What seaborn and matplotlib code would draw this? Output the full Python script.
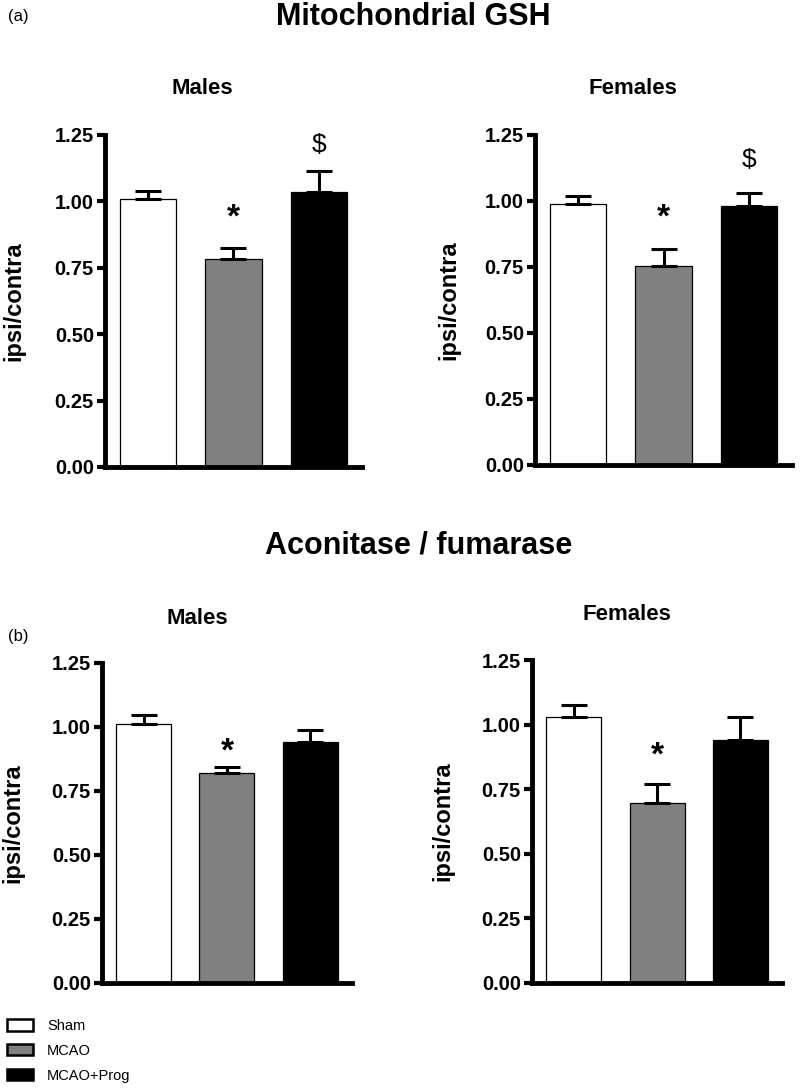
import numpy as np
import pandas as pd
import seaborn as sns
import matplotlib.pyplot as plt
from matplotlib.patches import Patch

sns.set_style('ticks')
plt.rcParams['font.family'] = ['Liberation Sans', 'DejaVu Sans']
plt.rcParams['text.color'] = 'black'
plt.rcParams['axes.edgecolor'] = 'black'
plt.rcParams['axes.labelcolor'] = 'black'
plt.rcParams['ytick.color'] = 'black'
plt.rcParams['xtick.color'] = 'black'

# data (mean and SEM, ipsi/contra ratio)
groups = ['Sham', 'MCAO', 'MCAO+Prog']
colors = ['#ffffff', '#808080', '#000000']

gsh_males_mean = [1.01, 0.785, 1.035]
gsh_males_sem = [0.03, 0.04, 0.08]
gsh_females_mean = [0.99, 0.755, 0.98]
gsh_females_sem = [0.03, 0.065, 0.05]

aco_males_mean = [1.01, 0.82, 0.94]
aco_males_sem = [0.035, 0.025, 0.05]
aco_females_mean = [1.03, 0.695, 0.94]
aco_females_sem = [0.045, 0.075, 0.09]

# significance marks: (group, symbol, height of mark centre)
gsh_males_marks = [('MCAO', '*', 0.979), ('MCAO+Prog', '$', 1.222)]
gsh_females_marks = [('MCAO', '*', 0.978), ('MCAO+Prog', '$', 1.165)]
aco_males_marks = [('MCAO', '*', 0.944)]
aco_females_marks = [('MCAO', '*', 0.922)]

yticks = [0.00, 0.25, 0.50, 0.75, 1.00, 1.25]

W, H = 800, 1091
fig = plt.figure(figsize=(W / 100, H / 100), dpi=100)


def px_axes(left, right, top, bottom):
    return fig.add_axes([left / W, 1 - bottom / H, (right - left) / W, (bottom - top) / H])


def panel(ax, title, means, sems, marks, label_x):
    df = pd.DataFrame({'group': groups, 'value': means, 'sem': sems})
    sns.barplot(data=df, x='group', y='value', hue='group', order=groups,
                hue_order=groups, palette=colors, width=0.66, edgecolor='black',
                linewidth=0.9, legend=False, ax=ax)
    ax.errorbar(np.arange(len(groups)), df['value'],
                yerr=[np.zeros(len(groups)), df['sem']], fmt='none',
                ecolor='black', elinewidth=2.2, capsize=9.5, capthick=2.2, zorder=1)
    for g, sym, y in marks:
        fs = 24 if sym == '*' else 19
        frac = 0.58 if sym == '*' else 0.36
        ax.annotate(sym, xy=(groups.index(g), y), xytext=(0, -frac * fs),
                    textcoords='offset points', ha='center', va='baseline',
                    fontsize=fs, fontweight='bold' if sym == '*' else 'normal')
    ax.set_xlim(-0.5, 2.5)
    ax.set_ylim(0, 1.25)
    ax.set_yticks(yticks)
    ax.set_yticklabels([f'{t:.2f}' for t in yticks], fontsize=14.5, fontweight='bold')
    ax.set_xticks([])
    ax.set_xlabel('')
    ax.set_ylabel('ipsi/contra', fontsize=17, fontweight='bold')
    ax.yaxis.set_label_coords(label_x, 0.5)
    ax.tick_params(axis='y', width=3, length=6, pad=2)
    sns.despine(ax=ax)
    for s in ['left', 'bottom']:
        ax.spines[s].set_linewidth(3.5)
    ax.text(0.38, 1.14, title, transform=ax.transAxes, ha='center', va='center',
            fontsize=16, fontweight='bold')


panel(px_axes(105, 362, 135, 467), 'Males', gsh_males_mean, gsh_males_sem, gsh_males_marks, -0.31)
panel(px_axes(535, 792, 135, 465), 'Females', gsh_females_mean, gsh_females_sem, gsh_females_marks, -0.29)
panel(px_axes(102, 352, 663, 983), 'Males', aco_males_mean, aco_males_sem, aco_males_marks, -0.31)
panel(px_axes(532, 782, 660, 983), 'Females', aco_females_mean, aco_females_sem, aco_females_marks, -0.31)

fig.text(413 / W, 1 - 17 / H, 'Mitochondrial GSH', ha='center', va='center',
         fontsize=22, fontweight='bold')
fig.text(419 / W, 1 - 545 / H, 'Aconitase / fumarase', ha='center', va='center',
         fontsize=22, fontweight='bold')
fig.text(8 / W, 1 - 17 / H, '(a)', ha='left', va='center', fontsize=12)
fig.text(8 / W, 1 - 637 / H, '(b)', ha='left', va='center', fontsize=12)

handles = [Patch(facecolor=c, edgecolor='black', linewidth=1.8) for c in colors]
fig.legend(handles, groups, loc='upper left', bbox_to_anchor=(7 / W, 1 - 1019 / H),
           frameon=False, fontsize=10.5, handlelength=1.8, handleheight=0.8,
           handletextpad=0.95, labelspacing=0.75, borderpad=0, borderaxespad=0)

fig.savefig('out.png', dpi=100)
